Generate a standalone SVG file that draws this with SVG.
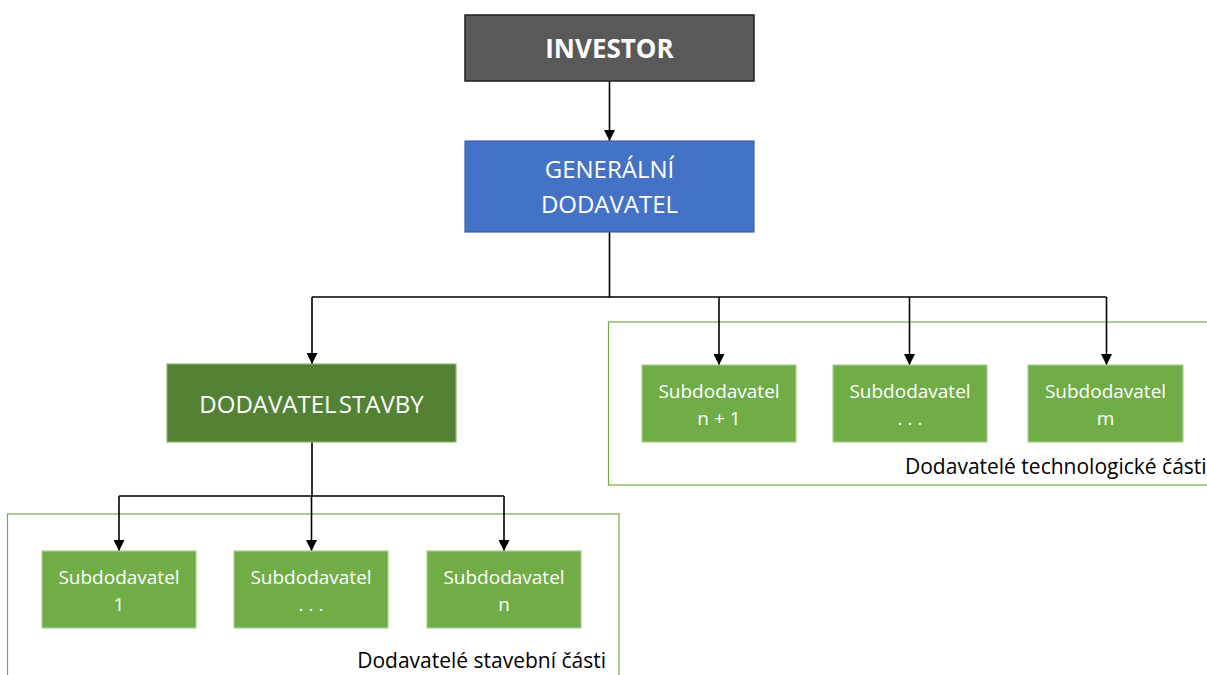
<svg xmlns="http://www.w3.org/2000/svg" width="1207" height="675" viewBox="0 0 1207 675">
  <style>
    .lbl { font-family: "Open Sans", "Liberation Sans", sans-serif; fill: #ffffff; text-anchor: middle; }
    .sub rect { fill: #70AD47; stroke: #A9CF8E; stroke-width: 1.2; }
    .sub text { font-size: 19px; }
    .grp { fill: none; stroke: #70AD47; stroke-width: 1.2; }
    .cap { font-family: "Open Sans", "Liberation Sans", sans-serif; font-size: 21px; fill: #000000; }
    .wire { fill: none; stroke: #000000; stroke-width: 1.6; }
    .arr { fill: none; stroke: #000000; stroke-width: 1.6; marker-end: url(#head); }
  </style>
  <defs>
    <marker id="head" viewBox="0 0 10 10" refX="10" refY="5" markerUnits="userSpaceOnUse" markerWidth="11" markerHeight="11" orient="auto">
      <path d="M0,0 L10,5 L0,10 Z" fill="#000000"/>
    </marker>
  </defs>
  <rect width="1207" height="675" fill="#ffffff"/>

  <!-- group frames -->
  <g id="group-tech">
    <rect class="grp" x="608.5" y="322" width="610" height="163"/>
    <text class="cap" x="905" y="474">Dodavatelé technologické části</text>
  </g>
  <g id="group-stavba">
    <rect class="grp" x="7.5" y="514" width="611.5" height="180"/>
    <text class="cap" x="606" y="668" text-anchor="end">Dodavatelé stavební části</text>
  </g>

  <!-- connectors -->
  <g id="connectors">
    <line class="arr" x1="609.5" y1="81" x2="609.5" y2="141"/>
    <polyline class="wire" points="609.5,232 609.5,297 312,297"/>
    <polyline class="wire" points="609.5,297 1106.5,297"/>
    <line class="arr" x1="312" y1="297" x2="312" y2="364"/>
    <line class="arr" x1="719" y1="297" x2="719" y2="365"/>
    <line class="arr" x1="909.5" y1="297" x2="909.5" y2="365"/>
    <line class="arr" x1="1106.5" y1="297" x2="1106.5" y2="365"/>
    <polyline class="wire" points="312,442 312,496"/>
    <polyline class="wire" points="119,496 504,496"/>
    <line class="arr" x1="119" y1="496" x2="119" y2="551"/>
    <line class="arr" x1="311.5" y1="496" x2="311.5" y2="551"/>
    <line class="arr" x1="504" y1="496" x2="504" y2="551"/>
  </g>

  <g id="investor">
    <rect x="465" y="15" width="289" height="66" fill="#595959" stroke="#1f1f1f" stroke-width="1.5"/>
    <text class="lbl" x="609.5" y="58" font-size="26" font-weight="bold">INVESTOR</text>
  </g>

  <g id="generalni-dodavatel">
    <rect x="465" y="141" width="289" height="91" fill="#4472C4" stroke="#3A63AD" stroke-width="1.2"/>
    <text class="lbl" x="609.5" y="178" font-size="24">GENERÁLNÍ</text>
    <text class="lbl" x="609.5" y="213" font-size="24">DODAVATEL</text>
  </g>

  <g id="dodavatel-stavby">
    <rect x="167" y="364" width="289" height="78" fill="#548235" stroke="#8DB36E" stroke-width="1.2"/>
    <text class="lbl" x="311.5" y="413" font-size="24" word-spacing="-4">DODAVATEL STAVBY</text>
  </g>

  <g id="sub-n1" class="sub">
    <rect x="642" y="365" width="154" height="77"/>
    <text class="lbl" x="719" y="398">Subdodavatel</text>
    <text class="lbl" x="719" y="425">n + 1</text>
  </g>
  <g id="sub-tech-dots" class="sub">
    <rect x="833" y="365" width="154" height="77"/>
    <text class="lbl" x="910" y="398">Subdodavatel</text>
    <text class="lbl" x="910" y="425">. . .</text>
  </g>
  <g id="sub-m" class="sub">
    <rect x="1028" y="365" width="155" height="77"/>
    <text class="lbl" x="1105.5" y="398">Subdodavatel</text>
    <text class="lbl" x="1105.5" y="425">m</text>
  </g>

  <g id="sub-1" class="sub">
    <rect x="42" y="551" width="154" height="77"/>
    <text class="lbl" x="119" y="584">Subdodavatel</text>
    <text class="lbl" x="119" y="611">1</text>
  </g>
  <g id="sub-stavba-dots" class="sub">
    <rect x="234" y="551" width="154" height="77"/>
    <text class="lbl" x="311" y="584">Subdodavatel</text>
    <text class="lbl" x="311" y="611">. . .</text>
  </g>
  <g id="sub-n" class="sub">
    <rect x="427" y="551" width="154" height="77"/>
    <text class="lbl" x="504" y="584">Subdodavatel</text>
    <text class="lbl" x="504" y="611">n</text>
  </g>
</svg>
